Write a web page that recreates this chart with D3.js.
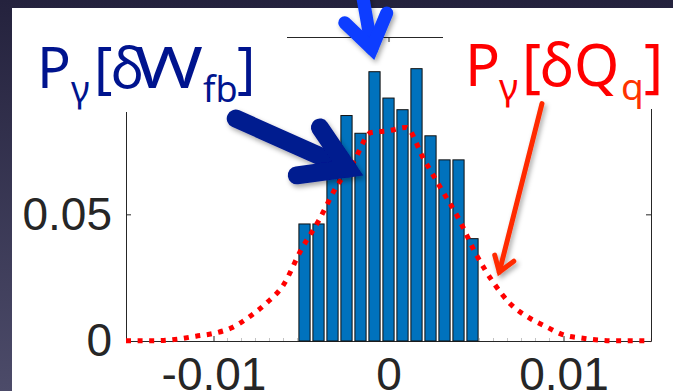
<!DOCTYPE html>
<html>
<head>
<meta charset="utf-8">
<script src="https://cdn.jsdelivr.net/npm/d3@7"></script>
<style>
  html, body { margin: 0; padding: 0; background: #fff; }
  svg { display: block; }
</style>
</head>
<body>
<svg id="SVG_CONTAINER" width="673" height="391"></svg>
<script>
// histogram of P_gamma[dW_fb] (bin centres + probability per bin)
const binCenters = [-0.0048, -0.004, -0.0032, -0.0024, -0.0016, -0.0008, 0, 0.0008, 0.0016, 0.0024, 0.0032, 0.004, 0.0048];
const wfbProb    = [0.0462, 0.0462, 0.0710, 0.0890, 0.0820, 0.1063, 0.0959, 0.0913, 0.1075, 0.0810, 0.0715, 0.0715, 0.0404];

// dotted curve P_gamma[dQ_q], read every 0.001
const qGrid = [-0.015, -0.014, -0.013, -0.012, -0.011, -0.01, -0.009, -0.008, -0.007, -0.006, -0.005, -0.004, -0.003, -0.002, -0.001,
               0, 0.001, 0.002, 0.003, 0.004, 0.005, 0.006, 0.007, 0.008, 0.009, 0.01, 0.011, 0.012, 0.013, 0.014, 0.015];
const qProb = [0.0001, 0.0001, 0.0002, 0.0008, 0.0019, 0.0030, 0.0051, 0.0093, 0.0148, 0.0222, 0.0359, 0.0474, 0.0606, 0.0707, 0.0823,
               0.0830, 0.0843, 0.0720, 0.0602, 0.0484, 0.0343, 0.0230, 0.0144, 0.0093, 0.0057, 0.0024, 0.0012, 0.0004, 0.0001, 0.0001, 0.0001];

// axis ticks
const xTicks = [-0.01, 0, 0.01];
const yTicks = [0, 0.05, 0.1];
// faint marks left on the x axis at the bin edges
const edgeTicks = [-0.0092, -0.0084, -0.0076, -0.0068, -0.006, -0.0052, 0.0052, 0.006, 0.0068, 0.0076, 0.0084, 0.0092];

const MARGIN = {
    "LEFT": 126,
    "RIGHT": 22,
    "TOP": 37,
    "BOTTOM": 50,
};
const width = 673,
      height = 391;
const BIN = 0.0008;

let svg = d3.select("#SVG_CONTAINER");

let xScale = d3.scaleLinear()
    .domain([-0.015, 0.015])
    .range([MARGIN.LEFT, width - MARGIN.RIGHT]);

let yScale = d3.scaleLinear()
    .domain([0, 0.12])
    .range([height - MARGIN.BOTTOM, MARGIN.TOP]);

// background: dark slide, white figure
let defs = svg.append("defs");
let grad = defs.append("linearGradient")
    .attr("id", "slideBg")
    .attr("x1", 0).attr("y1", 0).attr("x2", 0).attr("y2", 1);
grad.append("stop").attr("offset", "0%").attr("stop-color", "#24223d");
grad.append("stop").attr("offset", "100%").attr("stop-color", "#4c4b69");

let shadow = defs.append("filter")
    .attr("id", "shadow")
    .attr("x", "-20%").attr("y", "-20%").attr("width", "150%").attr("height", "150%");
shadow.append("feDropShadow")
    .attr("dx", 2).attr("dy", 3)
    .attr("stdDeviation", 2.5)
    .attr("flood-color", "#000")
    .attr("flood-opacity", 0.35);

svg.append("rect")
    .attr("width", width).attr("height", height)
    .attr("fill", "url(#slideBg)");
svg.append("rect")
    .attr("x", 12).attr("y", 8)
    .attr("width", width - 12).attr("height", height - 8)
    .attr("fill", "#fff");

// axes (MATLAB style box, ticks inward)
let axisColor = "#262626";
let tickText = d => String(d);   // plain hyphen minus like matlab
let styleAxis = function (g) {
    g.selectAll(".domain").attr("stroke", axisColor).attr("stroke-width", 1);
    g.selectAll(".tick line").attr("stroke", axisColor);
    g.selectAll(".tick text")
        .attr("fill", axisColor)
        .style("font-family", "'Liberation Sans', Arial, sans-serif")
        .style("font-size", "46px");
};

let chart = svg.append("g").attr("class", "histPlot");

// faint bin edge marks
chart.selectAll(".edgeTick")
    .data(edgeTicks)
    .join("line")
    .attr("class", "edgeTick")
    .attr("x1", d => xScale(d)).attr("x2", d => xScale(d))
    .attr("y1", yScale(0)).attr("y2", yScale(0) - 3)
    .attr("stroke", "#c4c4c4")
    .attr("stroke-width", 1);

chart.append("g")
    .attr("transform", "translate(0," + yScale(0) + ")")
    .call(d3.axisBottom(xScale).tickValues(xTicks).tickFormat(tickText)
        .tickSizeInner(-5).tickSizeOuter(0).tickPadding(16))
    .call(styleAxis);

chart.append("g")
    .attr("transform", "translate(0," + yScale(0.12) + ")")
    .call(d3.axisTop(xScale).tickValues(xTicks).tickFormat("")
        .tickSizeInner(-5).tickSizeOuter(0))
    .call(styleAxis);

chart.append("g")
    .attr("transform", "translate(" + xScale(-0.015) + ",0)")
    .call(d3.axisLeft(yScale).tickValues(yTicks).tickFormat(tickText)
        .tickSizeInner(-5).tickSizeOuter(0).tickPadding(14))
    .call(styleAxis);

chart.append("g")
    .attr("transform", "translate(" + xScale(0.015) + ",0)")
    .call(d3.axisRight(yScale).tickValues(yTicks).tickFormat("")
        .tickSizeInner(-5).tickSizeOuter(0))
    .call(styleAxis);

// bars
let bars = binCenters.map((c, i) => ({ center: c, value: wfbProb[i] }));
chart.selectAll(".bar")
    .data(bars)
    .join("rect")
    .attr("class", "bar")
    .attr("x", d => xScale(d.center - 0.4 * BIN))
    .attr("width", d => xScale(d.center + 0.4 * BIN) - xScale(d.center - 0.4 * BIN))
    .attr("y", d => yScale(d.value))
    .attr("height", d => yScale(0) - yScale(d.value))
    .attr("fill", "#0072bd")
    .attr("stroke", "#111")
    .attr("stroke-width", 1);

// dotted curve
let qLine = d3.line()
    .x((d, i) => xScale(qGrid[i]))
    .y(d => yScale(d))
    .curve(d3.curveMonotoneX);

chart.append("path")
    .attr("d", qLine(qProb))
    .attr("fill", "none")
    .attr("stroke", "#ff0000")
    .attr("stroke-width", 5)
    .attr("stroke-dasharray", "5,6.6");

// labels, each sits on a white box that hides the axis behind it
let labelFont = "'Noto Sans', 'Open Sans', sans-serif";

svg.append("rect")
    .attr("x", 12).attr("y", 8)
    .attr("width", 275).attr("height", 104)
    .attr("fill", "#fff");
svg.append("rect")
    .attr("x", 443).attr("y", 8)
    .attr("width", width - 443).attr("height", 101)
    .attr("fill", "#fff");

let addLabel = function (parts, color) {
    let t = svg.append("text")
        .style("font-family", labelFont)
        .attr("fill", color);
    parts.forEach(function (p) {
        let ts = t.append("tspan")
            .attr("x", p.x)
            .attr("y", p.y)
            .style("font-size", p.size + "px")
            .attr("fill", p.fill || color)
            .text(p.s);
        if (p.len) {
            ts.attr("textLength", p.len).attr("lengthAdjust", "spacingAndGlyphs");
        }
    });
};

addLabel([
    { s: "P", x: 37, y: 88, size: 56 },
    { s: "γ", x: 71, y: 102, size: 36 },
    { s: "[", x: 94, y: 88, size: 56 },
    { s: "δ", x: 111, y: 88, size: 56 },
    { s: "W", x: 134, y: 88, size: 56, len: 69 },
    { s: "fb", x: 203, y: 102, size: 36 },
    { s: "]", x: 237, y: 88, size: 56 },
], "#00148e");

addLabel([
    { s: "P", x: 465, y: 86, size: 58 },
    { s: "γ", x: 499, y: 100, size: 37 },
    { s: "[", x: 522, y: 86, size: 58 },
    { s: "δ", x: 540, y: 86, size: 58 },
    { s: "Q", x: 574, y: 86, size: 58 },
    { s: "q", x: 621, y: 100, size: 37, fill: "#ff3300" },
    { s: "]", x: 644, y: 86, size: 58 },
], "#ff0000");

// arrows, in data units
let arrowLine = d3.line()
    .x(d => xScale(d[0]))
    .y(d => yScale(d[1]));

let drawArrow = function (shaft, head, color, w) {
    let g = svg.append("g").attr("filter", "url(#shadow)");
    g.append("path")
        .attr("d", arrowLine(shaft))
        .attr("fill", "none")
        .attr("stroke", color)
        .attr("stroke-width", w)
        .attr("stroke-linecap", "round");
    g.append("path")
        .attr("d", arrowLine(head))
        .attr("fill", "none")
        .attr("stroke", color)
        .attr("stroke-width", w)
        .attr("stroke-linecap", "round")
        .attr("stroke-linejoin", "miter")
        .attr("stroke-miterlimit", 6);
};

// W_fb arrow
drawArrow([[-0.00873, 0.0878], [-0.00233, 0.0681]],
          [[-0.00392, 0.0843], [-0.00233, 0.0681], [-0.00524, 0.0654]],
          "#001a8f", 18);
// arrow at the top
drawArrow([[-0.00153, 0.1382], [-0.00095, 0.1154]],
          [[-0.0025, 0.1256], [-0.00095, 0.1154], [-0.0001, 0.1295]],
          "#0a3cff", 13);
// Q_q arrow
drawArrow([[0.00877, 0.0937], [0.00633, 0.0272]],
          [[0.00607, 0.0339], [0.00633, 0.0272], [0.00716, 0.0315]],
          "#ff2a00", 5);
</script>
</body>
</html>
